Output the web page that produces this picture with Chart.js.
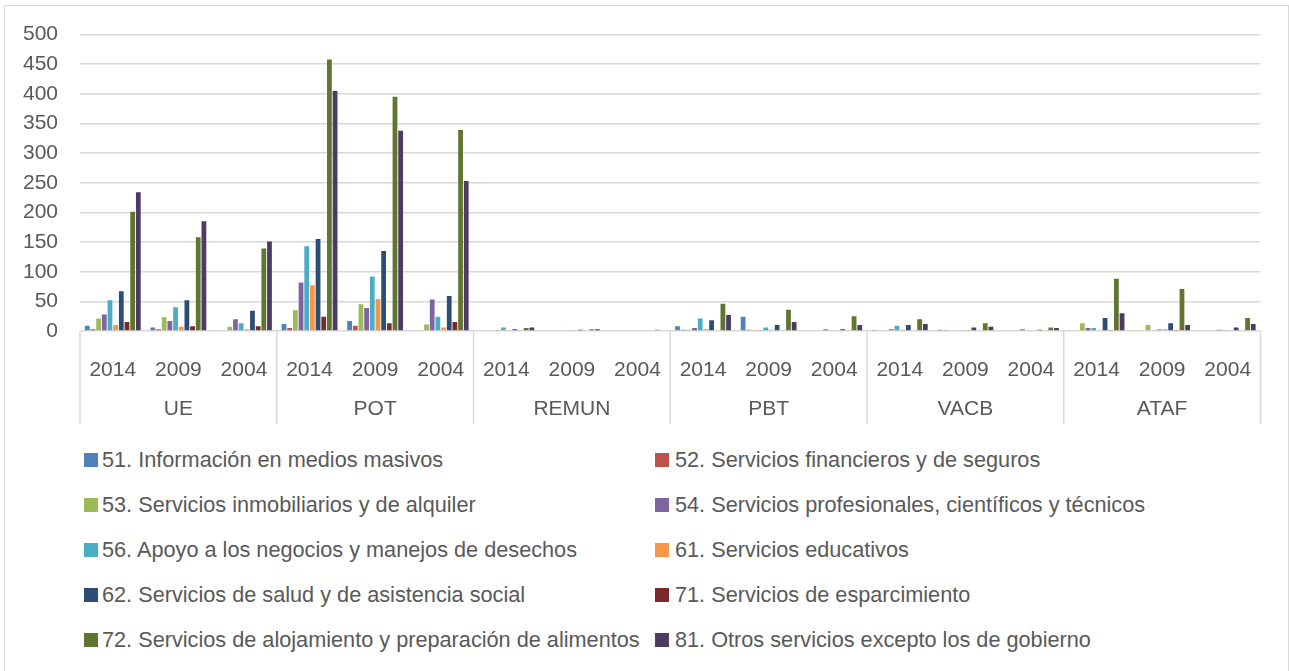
<!DOCTYPE html>
<html><head><meta charset="utf-8">
<script src="https://cdn.jsdelivr.net/npm/chart.js@4.4.0/dist/chart.umd.min.js"></script>
<style>
html,body{margin:0;padding:0;background:#fff;}
#wrap{position:relative;width:1289px;height:671px;overflow:hidden;font-family:'Liberation Sans',Arial,sans-serif;background:#fff;}
#frame{position:absolute;left:4px;top:5px;width:1285px;height:700px;border:1px solid #d9d9d9;box-sizing:border-box;}
#cvbox{position:absolute;left:0;top:0;width:1289px;height:440px;}
.li{position:absolute;height:30px;display:flex;align-items:center;font-size:21.7px;color:#595959;white-space:nowrap;}
.sw{width:14px;height:14px;flex:none;}
</style></head>
<body>
<div id="wrap">
  <div id="frame"></div>
  <div id="cvbox"><canvas id="cv" width="1289" height="440"></canvas></div>
  <div id="legend"></div>
</div>
<script>
// ---- data ----
const groups = ['UE', 'POT', 'REMUN', 'PBT', 'VACB', 'ATAF'];
const years = ['2014', '2009', '2004'];
const yTicks = [0, 50, 100, 150, 200, 250, 300, 350, 400, 450, 500];

const seriesNames = [
  '51. Información en medios masivos',
  '52. Servicios financieros y de seguros',
  '53. Servicios inmobiliarios y de alquiler',
  '54. Servicios profesionales, científicos y técnicos',
  '56. Apoyo a los negocios y manejos de desechos',
  '61. Servicios educativos',
  '62. Servicios de salud y de asistencia social',
  '71. Servicios de esparcimiento',
  '72. Servicios de alojamiento y preparación de alimentos',
  '81. Otros servicios excepto los de gobierno'
];
const seriesColors = ['#4F81BD','#C0504D','#9BBB59','#8064A2','#4BACC6','#F79646','#2C4D75','#772C2A','#5F7530','#4D3B62'];

//            UE 14,09,04   POT 14,09,04    REMUN       PBT         VACB        ATAF
const s51 = [  9,  6,  0,   12,  17,   0,   0, 0, 0,    8, 24, 0,   1, 2, 0,    0,  0,  0];
const s52 = [  3,  3,  0,    5,   9,   0,   0, 0, 0,    2,  2, 0,   0, 1, 0,    0,  0,  0];
const s53 = [ 21, 23,  7,   35,  45,  11,   0, 0, 0,    2,  1, 0,   0, 0, 0,   13, 10,  0];
const s54 = [ 28, 17, 20,   82,  39,  53,   1, 0, 0,    5,  1, 3,   3, 0, 3,    5,  0,  2];
const s56 = [ 52, 40, 13,  143,  92,  24,   6, 1, 0,   21,  6, 0,   9, 1, 0,    5,  3,  1];
const s61 = [ 10,  7,  3,   77,  54,   6,   1, 1, 0,    3,  2, 0,   2, 1, 0,    0,  3,  0];
const s62 = [ 67, 52, 34,  155, 135,  59,   3, 2, 0,   18, 10, 3,  10, 6, 2,   22, 13,  6];
const s71 = [ 15,  8,  8,   24,  13,  15,   0, 0, 0,    0,  0, 0,   0, 0, 0,    1,  1,  0];
const s72 = [201,158,139,  458, 395, 339,   5, 3, 2,   46, 36,25,  20,13, 6,   88, 71, 22];
const s81 = [234,185,151,  405, 338, 253,   6, 3, 0,   27, 15,10,  12, 7, 5,   30, 10, 12];
const seriesValues = [s51, s52, s53, s54, s56, s61, s62, s71, s72, s81];

// ---- build ----
const labels = [];
groups.forEach(g => years.forEach(y => labels.push(y)));

const FONT = "'Liberation Sans', Arial, sans-serif";
const TXT = '#595959';
const GRID = '#d9d9d9';

const datasets = seriesNames.map((name, i) => ({
  label: name,
  data: seriesValues[i],
  backgroundColor: seriesColors[i],
  borderWidth: 0,
  barPercentage: 0.84,
  categoryPercentage: 0.865
}));

const groupPlugin = {
  id: 'groups',
  afterDraw(chart) {
    const { ctx, chartArea: { left, right, bottom } } = chart;
    const x = chart.scales.x;
    const n = groups.length, per = years.length;
    ctx.save();
    ctx.strokeStyle = GRID;
    ctx.lineWidth = 1.5;
    for (let k = 0; k <= n; k++) {
      let px;
      if (k === 0) px = left;
      else if (k === n) px = right;
      else px = (x.getPixelForValue(k * per - 1) + x.getPixelForValue(k * per)) / 2;
      ctx.beginPath();
      ctx.moveTo(px, bottom);
      ctx.lineTo(px, 424);
      ctx.stroke();
    }
    ctx.fillStyle = TXT;
    ctx.font = '21px ' + FONT;
    ctx.textAlign = 'center';
    ctx.textBaseline = 'middle';
    groups.forEach((g, k) => {
      const c = (x.getPixelForValue(k * per) + x.getPixelForValue(k * per + per - 1)) / 2;
      ctx.fillText(g, c, 409);
    });
    ctx.restore();
  }
};

const chart = new Chart(document.getElementById('cv'), {
  type: 'bar',
  data: { labels, datasets },
  options: {
    responsive: false,
    devicePixelRatio: 1,
    animation: false,
    layout: { padding: { left: 0, right: 28.5, top: 34, bottom: 0 } },
    plugins: { legend: { display: false }, tooltip: { enabled: false } },
    scales: {
      x: {
        grid: { display: false },
        border: { display: false },
        ticks: { color: TXT, font: { family: FONT, size: 21 }, padding: 19, maxRotation: 0, autoSkip: false },
        afterFit(s) { s.height = 109; }
      },
      y: {
        min: 0, max: 500,
        afterBuildTicks(s) { s.ticks = yTicks.map(v => ({ value: v })); },
        grid: { color: GRID, lineWidth: 1.5, drawTicks: false },
        border: { display: false },
        ticks: { color: TXT, font: { family: FONT, size: 21 }, padding: 22 },
        afterFit(s) { s.width = 80; }
      }
    }
  },
  plugins: [groupPlugin]
});

// ---- HTML legend built from datasets ----
const leg = document.getElementById('legend');
const colX = [84, 655];
chart.data.datasets.forEach((ds, i) => {
  const row = Math.floor(i / 2), col = i % 2;
  const d = document.createElement('div');
  d.className = 'li';
  d.style.left = colX[col] + 'px';
  d.style.top = (460 + row * 45 - 15) + 'px';
  const sw = document.createElement('span');
  sw.className = 'sw';
  sw.style.background = ds.backgroundColor;
  sw.style.marginRight = (col === 0 ? 4 : 6) + 'px';
  const t = document.createElement('span');
  t.textContent = ds.label;
  d.appendChild(sw); d.appendChild(t);
  leg.appendChild(d);
});
</script>
</body></html>
